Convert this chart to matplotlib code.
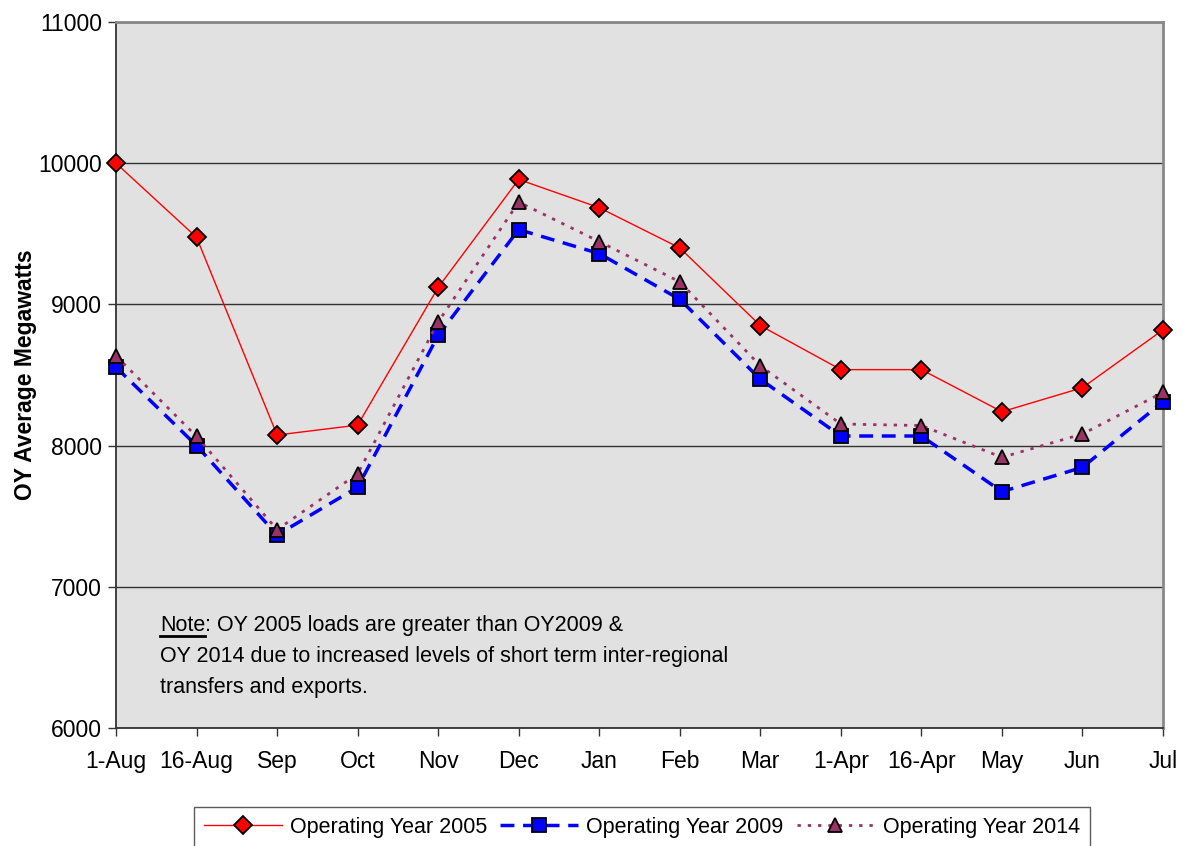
import matplotlib
matplotlib.use("Agg")
import matplotlib.pyplot as plt
from matplotlib.lines import Line2D

categories = ["1-Aug", "16-Aug", "Sep", "Oct", "Nov", "Dec", "Jan", "Feb",
              "Mar", "1-Apr", "16-Apr", "May", "Jun", "Jul"]
oy2005 = [10000, 9475, 8075, 8145, 9120, 9885, 9685, 9400, 8850, 8538, 8538, 8240, 8410, 8820]
oy2009 = [8555, 8000, 7367, 7705, 8780, 9530, 9360, 9036, 8470, 8068, 8068, 7674, 7846, 8311]
oy2014 = [8635, 8065, 7405, 7800, 8875, 9725, 9445, 9160, 8565, 8153, 8142, 7917, 8082, 8377]
series_labels = ["Operating Year 2005", "Operating Year 2009", "Operating Year 2014"]
yticks = [6000, 7000, 8000, 9000, 10000, 11000]

plt.rcParams['font.family'] = ['Liberation Sans', 'DejaVu Sans']

W, H = 1183, 846
fig = plt.figure(figsize=(W/100, H/100), dpi=100)
ax = fig.add_axes([116/W, (H-728)/H, (1163-116)/W, (728-22)/H])
ax.set_facecolor('#e1e1e1')

x = list(range(len(categories)))
ax.plot(x, oy2005, color='#ff0000', lw=1.0, marker='D', markersize=9,
        markerfacecolor='#ff0000', markeredgecolor='black', markeredgewidth=1.3,
        label=series_labels[0], zorder=5, clip_on=False)
ax.plot(x, oy2009, color='#0000ff', lw=2.5, ls=(0, (4, 2.5)), marker='s', markersize=10,
        markerfacecolor='#0000ff', markeredgecolor='black', markeredgewidth=1.3,
        label=series_labels[1], zorder=3, clip_on=False)
ax.plot(x, oy2014, color='#993366', lw=2.0, ls=(0, (1.2, 2.5)), marker='^', markersize=10,
        markerfacecolor='#993366', markeredgecolor='black', markeredgewidth=1.3,
        label=series_labels[2], zorder=4, clip_on=False)

ax.set_xlim(0, len(categories) - 1)
ax.set_ylim(6000, 11000)
ax.set_yticks(yticks)
ax.set_xticks(x)
ax.set_xticklabels(categories)
ax.tick_params(axis='both', direction='out', length=6, width=1, color='#333333',
               labelsize=16.5, pad=4)
ax.tick_params(axis='x', pad=10)
ax.yaxis.grid(True, color='#333333', lw=1)
ax.set_axisbelow(True)
for side in ['left', 'bottom']:
    ax.spines[side].set_color('#333333')
    ax.spines[side].set_linewidth(1.3)
for side in ['top', 'right']:
    ax.spines[side].set_color('#888888')
    ax.spines[side].set_linewidth(2)

ax.set_ylabel("OY Average Megawatts", fontsize=16.5, fontweight='bold')
ax.yaxis.set_label_coords((37 - 116) / (1163 - 116), 0.5)

# Note text
note_fs = 15.5
t_note = fig.text(160/W, 1 - 625/H, "Note", fontsize=note_fs, va='center', ha='left')
fig.canvas.draw()
r = fig.canvas.get_renderer()
bb = t_note.get_window_extent(r)
fig.text(bb.x1/W, 1 - 625/H, ": OY 2005 loads are greater than OY2009 &",
         fontsize=note_fs, va='center', ha='left')
fig.text(160/W, 1 - 656/H, "OY 2014 due to increased levels of short term inter-regional",
         fontsize=note_fs, va='center', ha='left')
fig.text(160/W, 1 - 687/H, "transfers and exports.",
         fontsize=note_fs, va='center', ha='left')
fig.add_artist(Line2D([bb.x0/W, bb.x1/W], [1 - 636/H, 1 - 636/H],
                      color='black', lw=2, transform=fig.transFigure))

leg = fig.legend(loc='center', bbox_to_anchor=(642/W, 1 - 827/H), ncol=3,
                 fontsize=15.5, frameon=True, fancybox=False, edgecolor='#333333',
                 handlelength=3.6, columnspacing=0.6, handletextpad=0.4,
                 borderpad=0.45, borderaxespad=0)
leg.get_frame().set_linewidth(1.0)

fig.savefig("out.png", dpi=100, facecolor='white')
